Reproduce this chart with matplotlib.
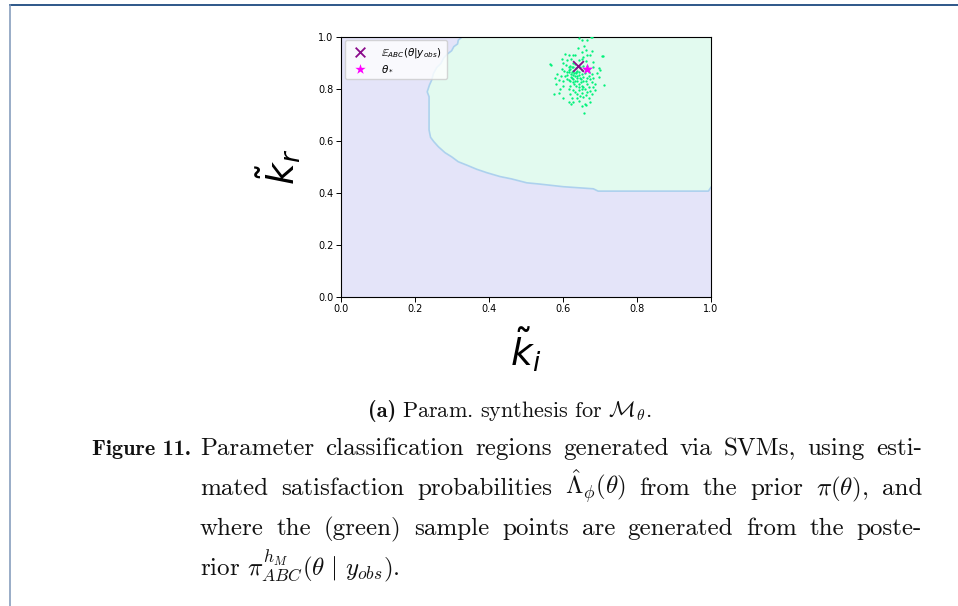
import matplotlib
matplotlib.use("Agg")
import matplotlib.pyplot as plt
from matplotlib.lines import Line2D

plt.rcParams['mathtext.fontset'] = 'dejavusans'

# decision boundary of the SVM classifier (k_i, k_r)
boundary_ki = [0.328, 0.317, 0.315, 0.305, 0.299, 0.287, 0.277, 0.270, 0.259, 0.250,
               0.245, 0.239, 0.233, 0.238, 0.238, 0.242, 0.251, 0.263, 0.281, 0.299,
               0.317, 0.340, 0.367, 0.394, 0.430, 0.461, 0.502, 0.538, 0.601, 0.682,
               0.695, 0.993, 1.000]
boundary_kr = [1.000, 0.987, 0.972, 0.962, 0.946, 0.933, 0.917, 0.897, 0.882, 0.859,
               0.833, 0.814, 0.788, 0.769, 0.641, 0.613, 0.596, 0.577, 0.554, 0.538,
               0.519, 0.506, 0.490, 0.477, 0.462, 0.453, 0.438, 0.433, 0.423, 0.415,
               0.406, 0.406, 0.421]

# posterior samples
sample_ki = [0.643, 0.652, 0.664, 0.678, 0.658, 0.640, 0.679, 0.661, 0.651, 0.606,
             0.615, 0.628, 0.633, 0.664, 0.673, 0.707, 0.655, 0.597, 0.610, 0.621,
             0.642, 0.651, 0.662, 0.680, 0.568, 0.601, 0.608, 0.615, 0.619, 0.628,
             0.682, 0.696, 0.700, 0.598, 0.603, 0.615, 0.628, 0.634, 0.651, 0.660,
             0.671, 0.678, 0.691, 0.583, 0.594, 0.610, 0.621, 0.625, 0.637, 0.646,
             0.655, 0.664, 0.680, 0.696, 0.579, 0.590, 0.601, 0.616, 0.626, 0.639,
             0.648, 0.662, 0.678, 0.687, 0.711, 0.581, 0.601, 0.619, 0.635, 0.644,
             0.655, 0.671, 0.682, 0.592, 0.615, 0.628, 0.642, 0.660, 0.673, 0.687,
             0.576, 0.588, 0.619, 0.637, 0.651, 0.662, 0.678, 0.601, 0.624, 0.637,
             0.655, 0.671, 0.615, 0.628, 0.644, 0.660, 0.673, 0.621, 0.651, 0.662,
             0.657, 0.619, 0.624, 0.630, 0.635, 0.642, 0.644, 0.621, 0.628, 0.633,
             0.651, 0.655, 0.633, 0.617, 0.624, 0.646, 0.655, 0.633, 0.626, 0.637,
             0.648, 0.619, 0.642, 0.651, 0.630, 0.664, 0.669, 0.673, 0.660, 0.666,
             0.671, 0.610, 0.606, 0.612, 0.639, 0.635, 0.626, 0.651, 0.633, 0.646,
             0.664, 0.565, 0.706, 0.676]
sample_kr = [0.995, 0.987, 0.988, 0.997, 0.965, 0.956, 0.946, 0.950, 0.940, 0.933,
             0.931, 0.929, 0.931, 0.931, 0.931, 0.924, 0.923, 0.914, 0.910, 0.914,
             0.911, 0.914, 0.907, 0.901, 0.891, 0.897, 0.891, 0.882, 0.888, 0.884,
             0.882, 0.878, 0.872, 0.875, 0.869, 0.872, 0.869, 0.865, 0.872, 0.859,
             0.863, 0.856, 0.859, 0.856, 0.850, 0.854, 0.856, 0.843, 0.850, 0.843,
             0.846, 0.843, 0.843, 0.846, 0.843, 0.834, 0.830, 0.833, 0.824, 0.830,
             0.824, 0.830, 0.824, 0.820, 0.815, 0.818, 0.811, 0.811, 0.811, 0.805,
             0.805, 0.807, 0.805, 0.798, 0.798, 0.795, 0.795, 0.798, 0.792, 0.795,
             0.779, 0.782, 0.779, 0.779, 0.782, 0.775, 0.779, 0.766, 0.766, 0.764,
             0.769, 0.763, 0.747, 0.747, 0.754, 0.741, 0.747, 0.741, 0.734, 0.737,
             0.706, 0.875, 0.866, 0.859, 0.879, 0.863, 0.854, 0.846, 0.837, 0.850,
             0.856, 0.830, 0.830, 0.863, 0.882, 0.882, 0.888, 0.895, 0.897, 0.869,
             0.837, 0.830, 0.818, 0.811, 0.818, 0.818, 0.850, 0.837, 0.875, 0.888,
             0.875, 0.837, 0.850, 0.863, 0.841, 0.859, 0.854, 0.798, 0.786, 0.773,
             0.786, 0.894, 0.927, 1.000]

posterior_mean = (0.641, 0.888)
theta_star = (0.666, 0.876)

sub_label = "(a)"
sub_text = r"Param. synthesis for $\mathcal{M}_\theta$."
caption_head = "Figure 11."
caption_lines = [
    "Parameter classification regions generated via SVMs, using esti-",
    r"mated satisfaction probabilities $\hat{\Lambda}_\phi(\theta)$ from the prior $\pi(\theta)$, and",
    "where the (green) sample points are generated from the poste-",
    r"rior $\pi^{h_M}_{ABC}(\theta\ |\ y_{obs})$.",
]

W, H = 958, 606
fig = plt.figure(figsize=(W / 100, H / 100), dpi=100)

# page frame
fig.add_artist(Line2D([9.5 / W, 1], [1 - 4.5 / H, 1 - 4.5 / H], color='#1c4a80', lw=1.3))
fig.add_artist(Line2D([9.5 / W, 9.5 / W], [0, 1 - 4.5 / H], color='#7d96b8', lw=1.1))

ax = fig.add_axes([341 / W, 1 - 296.7 / H, 370 / W, 260 / H])
ax.set_facecolor('#e4e4f9')
ax.fill(boundary_ki + [1.0], boundary_kr + [1.0], color='#e2faef', zorder=1)
ax.plot(boundary_ki, boundary_kr, color='#add0ee', lw=1.2, zorder=2)

ax.scatter(sample_ki, sample_kr, s=2.8, color='#00f27a', linewidths=0, zorder=3)
ax.scatter(*posterior_mean, marker='x', s=60, color='#8b0a8b', linewidths=1.3, zorder=4,
           label=r'$\mathbb{E}_{ABC}(\theta|y_{obs})$')
ax.scatter(*theta_star, marker='*', s=75, color='#ff00ff', linewidths=0, zorder=5,
           label=r'$\theta_*$')

ax.set_xlim(0, 1)
ax.set_ylim(0, 1)
ax.set_xticks([0.0, 0.2, 0.4, 0.6, 0.8, 1.0])
ax.set_yticks([0.0, 0.2, 0.4, 0.6, 0.8, 1.0])
ax.tick_params(labelsize=7, length=3.5, width=0.7, pad=2)
for s in ax.spines.values():
    s.set_linewidth(0.8)
ax.set_xlabel(r'$\tilde{k}_i$', fontsize=27, labelpad=8)
ax.set_ylabel(r'$\tilde{k}_r$', fontsize=27, labelpad=11)
ax.legend(loc='upper left', fontsize=7.5, markerscale=0.9, borderpad=0.5,
          handletextpad=1.0, labelspacing=0.35, framealpha=0.8,
          borderaxespad=0.35)

# caption
plt.rcParams['mathtext.fontset'] = 'cm'
renderer = fig.canvas.get_renderer()
ink = '#111111'

# sub-caption, centred under the plot
y_sub = 1 - 417 / H
t_a = fig.text(0, y_sub, sub_label, family='cmb10', fontsize=16, color=ink, va='baseline')
t_b = fig.text(0, y_sub, sub_text, family='cmr10', fontsize=16, color=ink, va='baseline')
wa = t_a.get_window_extent(renderer).width
wb = t_b.get_window_extent(renderer).width
space = 6
xs = 510 - (wa + wb + space) / 2
t_a.set_x(xs / W)
t_b.set_x((xs + wa + space) / W)

fig.text(92 / W, 1 - 455 / H, caption_head, family='cmb10', fontsize=16,
         color=ink, ha='left', va='baseline')

body = dict(family='cmr10', fontsize=18, color=ink, ha='left', va='baseline')
x0, x1 = 200, 922
baselines = [455, 495, 535, 575]
for i, line in enumerate(caption_lines):
    y = 1 - baselines[i] / H
    if i == len(caption_lines) - 1:
        fig.text(x0 / W, y, line, **body)
        continue
    words = line.split(' ')
    merged = []
    for w in words:
        if merged and merged[-1].count('$') % 2 == 1:
            merged[-1] += ' ' + w
        else:
            merged.append(w)
    texts = [fig.text(0, y, w, **body) for w in merged]
    widths = [t.get_window_extent(renderer).width for t in texts]
    gap = (x1 - x0 - sum(widths)) / (len(texts) - 1)
    xp = x0
    for t, wd in zip(texts, widths):
        t.set_x(xp / W)
        xp += wd + gap

fig.savefig('out.png', dpi=100)
